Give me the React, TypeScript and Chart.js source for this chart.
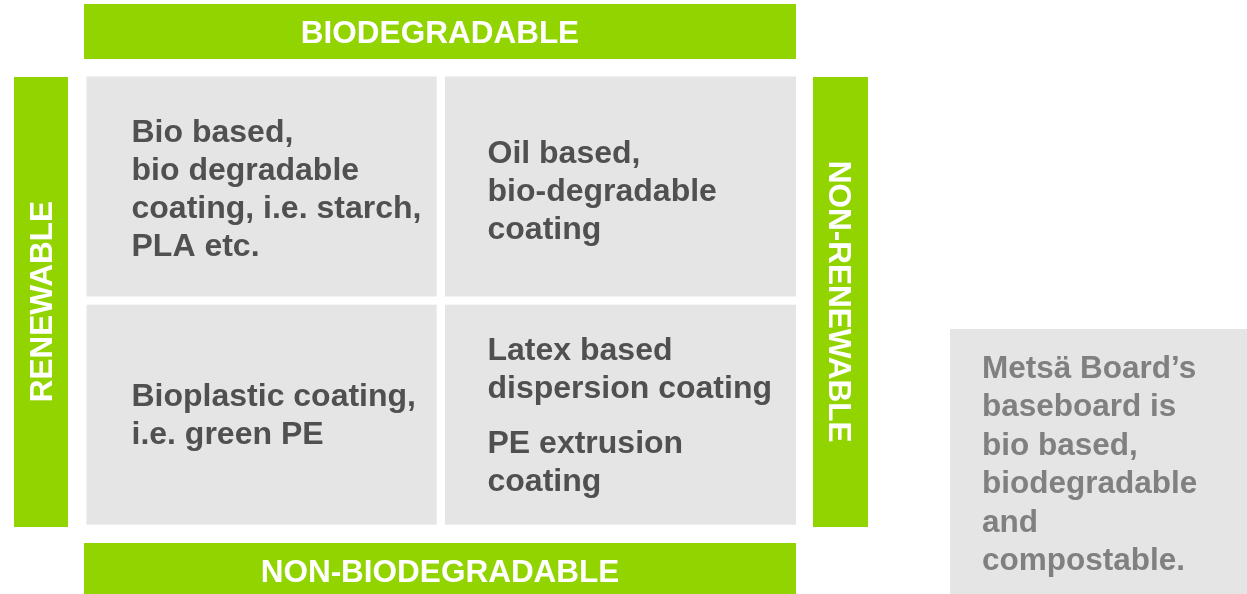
import React, { useEffect, useRef } from "react";
import { Chart, registerables } from "chart.js";

Chart.register(...registerables);

// ---- content (data) ----
const bandLabels = ["BIODEGRADABLE", "NON-BIODEGRADABLE", "RENEWABLE", "NON-RENEWABLE"];
const quadrantTopLeft = [["Bio based,", "bio degradable", "coating, i.e. starch,", "PLA etc."]];
const quadrantTopRight = [["Oil based,", "bio-degradable", "coating"]];
const quadrantBottomLeft = [["Bioplastic coating,", "i.e. green PE"]];
const quadrantBottomRight = [
  ["Latex based", "dispersion coating"],
  ["PE extrusion", "coating"],
];
const noteLines = [
  "Metsä Board’s",
  "baseboard is",
  "bio based,",
  "biodegradable",
  "and",
  "compostable.",
];

// ---- layout (axis units = px of the 1247x594 frame) ----
const W = 1247;
const H = 594;
const GREEN = "#92D400";
const GRAY = "#E5E5E5";
const DARK = "#505050";
const NOTE = "#808080";
const FONT = '"Liberation Sans", Arial, Helvetica, sans-serif';

const bandRects = [
  [84, 796, 4, 59],
  [84, 796, 543, 594],
  [14, 68, 77, 527],
  [813, 868, 77, 527],
];
const colSpans = [
  [86.5, 436.7],
  [445, 796],
];
const rowSpans = [
  [76.5, 296.5],
  [304.7, 524.7],
];
const textLeft = [131.5, 487.5];
// first-line baselines for [TL, TR, BL, BR]
const firstBaselines = [141.7, 162.7, 406, 360];
const noteRect = [950, 1247, 329, 594];

const diagramPlugin = {
  id: "quadrantDiagram",
  afterDraw(chart: any) {
    const ctx: CanvasRenderingContext2D = chart.ctx;
    const xs = chart.scales.x;
    const ys = chart.scales.y;
    const px = (v: number) => xs.getPixelForValue(v);
    const py = (v: number) => ys.getPixelForValue(v);
    const rect = (r: number[], color: string) => {
      const x0 = px(r[0]);
      const x1 = px(r[1]);
      const y0 = py(r[2]);
      const y1 = py(r[3]);
      ctx.fillStyle = color;
      ctx.fillRect(Math.min(x0, x1), Math.min(y0, y1), Math.abs(x1 - x0), Math.abs(y1 - y0));
    };

    ctx.save();
    bandRects.forEach((r) => rect(r, GREEN));
    rowSpans.forEach((row) =>
      colSpans.forEach((col) => rect([col[0], col[1], row[0], row[1]], GRAY))
    );
    rect(noteRect, GRAY);

    // band labels
    const bandSize = 31.5;
    const cap = bandSize * 0.716;
    ctx.fillStyle = "#FFFFFF";
    ctx.font = `bold ${bandSize}px ${FONT}`;
    ctx.textAlign = "center";
    ctx.textBaseline = "alphabetic";
    {
      const r = bandRects[0];
      ctx.fillText(bandLabels[0], px((r[0] + r[1]) / 2), py((r[2] + r[3]) / 2) + cap / 2);
    }
    {
      const r = bandRects[1];
      ctx.fillText(bandLabels[1], px((r[0] + r[1]) / 2), py(570.3) + cap / 2);
    }
    {
      const r = bandRects[2];
      ctx.save();
      ctx.translate(px((r[0] + r[1]) / 2), py(301.7));
      ctx.rotate(-Math.PI / 2);
      ctx.fillText(bandLabels[2], 0, cap / 2);
      ctx.restore();
    }
    {
      ctx.save();
      ctx.translate(px(840.3), py(301.7));
      ctx.rotate(Math.PI / 2);
      ctx.fillText(bandLabels[3], 0, cap / 2);
      ctx.restore();
    }

    // quadrant texts
    const size = 32;
    const lh = 38.2;
    const paraGap = 16.5;
    ctx.font = `bold ${size}px ${FONT}`;
    ctx.fillStyle = DARK;
    ctx.textAlign = "left";
    const drawBlock = (paras: string[][], ci: number, qi: number) => {
      let base = firstBaselines[qi];
      const x = px(textLeft[ci]);
      paras.forEach((p, pi) => {
        p.forEach((line) => {
          ctx.fillText(line, x, py(base));
          base += lh;
        });
        if (pi < paras.length - 1) base += paraGap;
      });
    };
    drawBlock(quadrantTopLeft, 0, 0);
    drawBlock(quadrantTopRight, 1, 1);
    drawBlock(quadrantBottomLeft, 0, 2);
    drawBlock(quadrantBottomRight, 1, 3);

    // note box
    ctx.font = `bold 31.5px ${FONT}`;
    ctx.fillStyle = NOTE;
    let nb = 378;
    noteLines.forEach((line) => {
      ctx.fillText(line, px(982), py(nb));
      nb += 38.4;
    });

    ctx.restore();
  },
};

export default function App() {
  const ref = useRef<HTMLCanvasElement | null>(null);
  useEffect(() => {
    document.body.style.margin = "0";
    const canvas = ref.current;
    if (!canvas) return;
    const chart = new Chart(canvas, {
      type: "scatter",
      data: { datasets: [] },
      options: {
        animation: false,
        responsive: false,
        devicePixelRatio: 1,
        layout: { padding: 0 },
        plugins: { legend: { display: false }, tooltip: { enabled: false } },
        scales: {
          x: { type: "linear", min: 0, max: W, display: false },
          y: { type: "linear", min: 0, max: H, reverse: true, display: false },
        },
      },
      plugins: [diagramPlugin],
    } as any);
    return () => chart.destroy();
  }, []);
  return (
    <div style={{ position: "fixed", left: 0, top: 0, width: W, height: H, background: "#FFFFFF" }}>
      <canvas ref={ref} width={W} height={H} style={{ display: "block", width: W, height: H }} />
    </div>
  );
}
